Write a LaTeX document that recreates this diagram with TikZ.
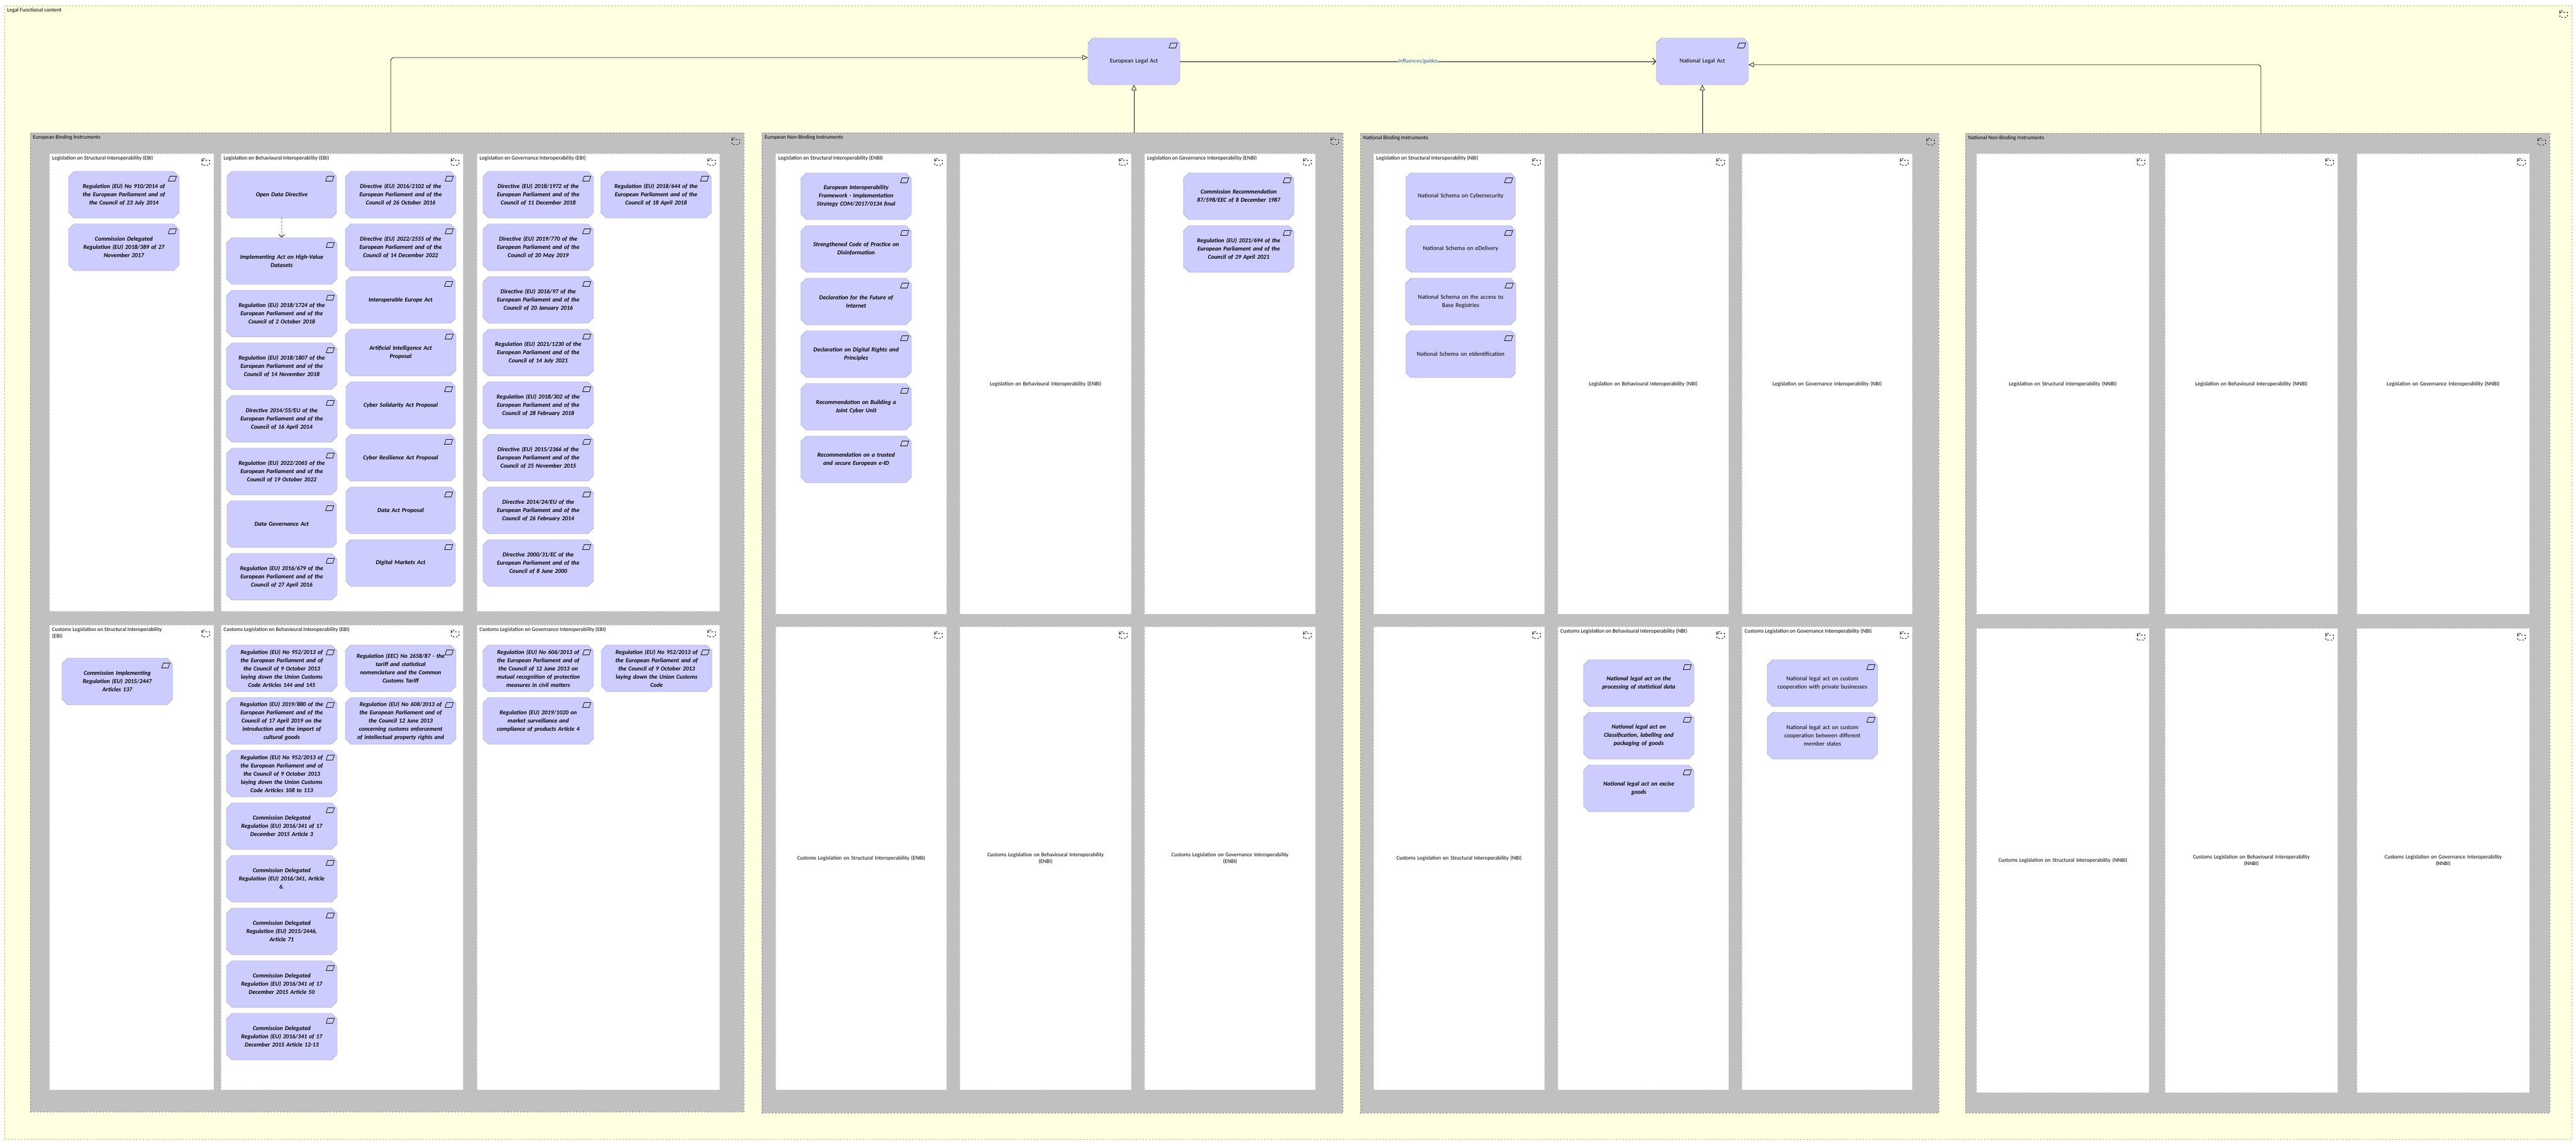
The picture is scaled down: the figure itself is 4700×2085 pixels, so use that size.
\documentclass[tikz,border=0pt]{standalone}
\usepackage{fontspec}
\setmainfont{Carlito}
\usetikzlibrary{shapes.misc,arrows.meta,positioning}
\definecolor{lfcfill}{HTML}{FFFFE1}
\definecolor{lfcdraw}{HTML}{B8B850}
\definecolor{grpfill}{HTML}{C0C0C0}
\definecolor{grpdraw}{HTML}{808080}
\definecolor{contdraw}{HTML}{C8C8C8}
\definecolor{actfill}{HTML}{CCCCFF}
\definecolor{actdraw}{HTML}{8585B5}
\definecolor{rellabel}{HTML}{1E5A8C}
\tikzset{
  folder/.style={path picture={
      \draw[black,line width=0.8pt] ([shift={(-22pt,-12pt)}]path picture bounding box.north east) rectangle ([shift={(-8pt,-21pt)}]path picture bounding box.north east);
      \draw[black,line width=0.8pt] ([shift={(-22pt,-12pt)}]path picture bounding box.north east) -- ([shift={(-22pt,-9pt)}]path picture bounding box.north east) -- ([shift={(-16pt,-9pt)}]path picture bounding box.north east) -- ([shift={(-16pt,-12pt)}]path picture bounding box.north east);}},
  grp/.style={draw=grpdraw, dashed, fill=grpfill, anchor=north west, inner sep=0pt, folder},
  cont/.style={draw=contdraw, dashed, fill=white, anchor=north west, inner sep=0pt, folder,
    font=\fontsize{10}{12}\selectfont, align=center, text width=300pt},
  ctitle/.style={anchor=north west, inner sep=0pt, xshift=5pt, yshift=-4pt, font=\fontsize{10}{12}\selectfont, align=left},
  act/.style={chamfered rectangle, chamfered rectangle xsep=7pt, chamfered rectangle angle=45,
    draw=actdraw, fill=actfill, minimum width=200pt, minimum height=85pt, inner sep=1pt,
    text width=186pt, align=center, font=\fontsize{11}{15}\selectfont\bfseries\itshape,
    path picture={\draw[black,line width=0.8pt]
      ([shift={(-17pt,-9pt)}]path picture bounding box.north east) -- ([shift={(-5pt,-9pt)}]path picture bounding box.north east) --
      ([shift={(-8pt,-18pt)}]path picture bounding box.north east) -- ([shift={(-20pt,-18pt)}]path picture bounding box.north east) -- cycle;}},
  plain/.style={act, font=\fontsize{11}{15}\selectfont},
  real/.style={-{Triangle[open,length=10pt,width=9pt]}, rounded corners=6pt, line width=0.8pt},
  infl/.style={-{Straight Barb[length=6pt]}, line width=1pt}
}
\begin{document}
\begin{tikzpicture}[x=1pt,y=-1pt]
  \useasboundingbox[fill=white] (0,0) rectangle (4700,2085);
  % outer frame
  \node[draw=lfcdraw, dashed, fill=lfcfill, anchor=north west, minimum width=4684pt, minimum height=2068pt, inner sep=0pt, folder] (lfc) at (8,10) {};
  \node[ctitle] at (lfc.north west) {Legal Functional content};

  % the two legal acts
  \node[plain, minimum width=168pt, text width=150pt] (eula) at (2069,112) {European Legal Act};
  \node[plain, minimum width=168pt, text width=150pt] (nla) at (3106,112) {National Legal Act};

  % instrument groups
  \node[grp, minimum width=1302pt, minimum height=1786pt] (ebi) at (55,242) {};
  \node[grp, minimum width=1060pt, minimum height=1788pt] (enbi) at (1390,242) {};
  \node[grp, minimum width=1055pt, minimum height=1787pt] (nbi) at (2482,243) {};
  \node[grp, minimum width=1066pt, minimum height=1787pt] (nnbi) at (3586,243) {};
  \node[ctitle] at (ebi.north west) {European Binding Instruments};
  \node[ctitle] at (enbi.north west) {European Non-Binding Instruments};
  \node[ctitle] at (nbi.north west) {National Binding Instruments};
  \node[ctitle] at (nnbi.north west) {National Non-Binding Instruments};

  % containers
  \foreach \nm/\xa/\ya/\w/\h/\txt in {
      ebis/90/280/290/835/{}, ebib/403/280/442/835/{}, ebig/870/280/443/835/{},
      ebics/90/1140/290/848/{}, ebicb/403/1140/442/848/{}, ebicg/870/1140/443/848/{},
      enbis/1415/280/312/840/{}, enbib/1751/280/313/840/{Legislation on Behavioural Interoperability (ENBI)}, enbig/2088/280/312/840/{},
      enbics/1415/1143/312/845/{Customs Legislation on Structural Interoperability (ENBI)},
      enbicb/1751/1143/313/845/{Customs Legislation on Behavioural Interoperability\\(ENBI)},
      enbicg/2088/1143/312/845/{Customs Legislation on Governance Interoperability\\(ENBI)},
      nbis/2506/280/312/840/{}, nbib/2842/280/312/840/{Legislation on Behavioural Interoperability (NBI)}, nbig/3178/280/311/840/{Legislation on Governance Interoperability (NBI)},
      nbics/2506/1143/312/845/{Customs Legislation on Structural Interoperability (NBI)}, nbicb/2842/1143/312/845/{}, nbicg/3178/1143/311/845/{},
      nnbis/3606/280/315/840/{Legislation on Structural Interoperability (NNBI)},
      nnbib/3950/280/315/840/{Legislation on Behavioural Interoperability (NNBI)},
      nnbig/4300/280/315/840/{Legislation on Governance Interoperability (NNBI)},
      nnbics/3606/1146/315/847/{Customs Legislation on Structural Interoperability (NNBI)},
      nnbicb/3950/1146/315/847/{Customs Legislation on Behavioural Interoperability\\(NNBI)},
      nnbicg/4300/1146/315/847/{Customs Legislation on Governance Interoperability\\(NNBI)}}
    \node[cont, minimum width=\w pt, minimum height=\h pt] (\nm) at (\xa,\ya) {\txt};
  \node[ctitle] at (ebis.north west) {Legislation on Structural Interoperability (EBI)};
  \node[ctitle] at (ebib.north west) {Legislation on Behavioural Interoperability (EBI)};
  \node[ctitle] at (ebig.north west) {Legislation on Governance Interoperability (EBI)};
  \node[ctitle] at (ebics.north west) {Customs Legislation on Structural Interoperability\\(EBI)};
  \node[ctitle] at (ebicb.north west) {Customs Legislation on Behavioural Interoperability (EBI)};
  \node[ctitle] at (ebicg.north west) {Customs Legislation on Governance Interoperability (EBI)};
  \node[ctitle] at (enbis.north west) {Legislation on Structural Interoperability (ENBI)};
  \node[ctitle] at (enbig.north west) {Legislation on Governance Interoperability (ENBI)};
  \node[ctitle] at (nbis.north west) {Legislation on Structural Interoperability (NBI)};
  \node[ctitle] at (nbicb.north west) {Customs Legislation on Behavioural Interoperability (NBI)};
  \node[ctitle] at (nbicg.north west) {Customs Legislation on Governance Interoperability (NBI)};

  % European binding, row 1
  \foreach \i/\txt in {0/{Regulation (EU) No 910/2014 of\\the European Parliament and of\\the Council of 23 July 2014},
      1/{Commission Delegated\\Regulation (EU) 2018/389 of 27\\November 2017}}
    \node[act] (ebis\i) at (226,355+96*\i) {\txt};
  \node[act] (odd) at (514,355) {Open Data Directive};
  \foreach \i/\txt in {0/{Implementing Act on High-Value\\Datasets},
      1/{Regulation (EU) 2018/1724 of the\\European Parliament and of the\\Council of 2 October 2018},
      2/{Regulation (EU) 2018/1807 of the\\European Parliament and of the\\Council of 14 November 2018},
      3/{Directive 2014/55/EU of the\\European Parliament and of the\\Council of 16 April 2014},
      4/{Regulation (EU) 2022/2065 of the\\European Parliament and of the\\Council of 19 October 2022},
      5/{Data Governance Act},
      6/{Regulation (EU) 2016/679 of the\\European Parliament and of the\\Council of 27 April 2016}}
    \node[act] (ebib\i) at (514,476+96*\i) {\txt};
  \foreach \i/\txt in {0/{Directive (EU) 2016/2102 of the\\European Parliament and of the\\Council of 26 October 2016},
      1/{Directive (EU) 2022/2555 of the\\European Parliament and of the\\Council of 14 December 2022},
      2/{Interoperable Europe Act}, 3/{Artificial Intelligence Act\\Proposal},
      4/{Cyber Solidarity Act Proposal}, 5/{Cyber Resilience Act Proposal},
      6/{Data Act Proposal}, 7/{Digital Markets Act}}
    \node[act] (ebibr\i) at (731,355+96*\i) {\txt};
  \foreach \i/\txt in {0/{Directive (EU) 2018/1972 of the\\European Parliament and of the\\Council of 11 December 2018},
      1/{Directive (EU) 2019/770 of the\\European Parliament and of the\\Council of 20 May 2019},
      2/{Directive (EU) 2016/97 of the\\European Parliament and of the\\Council of 20 January 2016},
      3/{Regulation (EU) 2021/1230 of the\\European Parliament and of the\\Council of 14 July 2021},
      4/{Regulation (EU) 2018/302 of the\\European Parliament and of the\\Council of 28 February 2018},
      5/{Directive (EU) 2015/2366 of the\\European Parliament and of the\\Council of 25 November 2015},
      6/{Directive 2014/24/EU of the\\European Parliament and of the\\Council of 26 February 2014},
      7/{Directive 2000/31/EC of the\\European Parliament and of the\\Council of 8 June 2000}}
    \node[act] (ebig\i) at (982,355+96*\i) {\txt};
  \node[act] (ebigr0) at (1197,355) {Regulation (EU) 2018/644 of the\\European Parliament and of the\\Council of 18 April 2018};
  \draw[dashed, -{Straight Barb[length=5pt]}, line width=0.8pt] (odd) -- (ebib0);

  % European binding, row 2 (customs)
  \node[act] (ebics0) at (214,1243) {Commission Implementing\\Regulation (EU) 2015/2447\\Articles 137};
  \foreach \i/\txt in {0/{Regulation (EU) No 952/2013 of\\the European Parliament and of\\the Council of 9 October 2013\\laying down the Union Customs\\Code Articles 144 and 145},
      1/{Regulation (EU) 2019/880 of the\\European Parliament and of the\\Council of 17 April 2019 on the\\introduction and the import of\\cultural goods},
      2/{Regulation (EU) No 952/2013 of\\the European Parliament and of\\the Council of 9 October 2013\\laying down the Union Customs\\Code Articles 108 to 113},
      3/{Commission Delegated\\Regulation (EU) 2016/341 of 17\\December 2015 Article 3},
      4/{Commission Delegated\\Regulation (EU) 2016/341, Article\\6.},
      5/{Commission Delegated\\Regulation (EU) 2015/2446,\\Article 71},
      6/{Commission Delegated\\Regulation (EU) 2016/341 of 17\\December 2015 Article 50},
      7/{Commission Delegated\\Regulation (EU) 2016/341 of 17\\December 2015 Article 12-13}}
    \node[act] (ebicb\i) at (514,1219+96*\i) {\txt};
  \node[act] (ebicbr0) at (731,1219) {Regulation (EEC) No 2658/87 - the\\tariff and statistical\\nomenclature and the Common\\Customs Tariff};
  \node[act] (ebicbr1) at (731,1315) {Regulation (EU) No 608/2013 of\\the European Parliament and of\\the Council 12 June 2013\\concerning customs enforcement\\of intellectual property rights and};
  \node[act] (ebicg0) at (982,1219) {Regulation (EU) No 606/2013 of\\the European Parliament and of\\the Council of 12 June 2013 on\\mutual recognition of protection\\measures in civil matters};
  \node[act] (ebicgr0) at (1198,1219) {Regulation (EU) No 952/2013 of\\the European Parliament and of\\the Council of 9 October 2013\\laying down the Union Customs\\Code};
  \node[act] (ebicg1) at (982,1315) {Regulation (EU) 2019/1020 on\\market surveillance and\\compliance of products Article 4};

  % European non-binding
  \foreach \i/\txt in {0/{European Interoperability\\Framework - Implementation\\Strategy COM/2017/0134 final},
      1/{Strengthened Code of Practice on\\Disinformation}, 2/{Declaration for the Future of\\Internet},
      3/{Declaration on Digital Rights and\\Principles}, 4/{Recommendation on Building a\\Joint Cyber Unit},
      5/{Recommendation on a trusted\\and secure European e-ID}}
    \node[act] (enbis\i) at (1562,358+96*\i) {\txt};
  \node[act] (enbig0) at (2260,358) {Commission Recommendation\\87/598/EEC of 8 December 1987};
  \node[act] (enbig1) at (2260,454) {Regulation (EU) 2021/694 of the\\European Parliament and of the\\Council of 29 April 2021};

  % national binding
  \foreach \i/\txt in {0/{National Schema on Cybersecurity}, 1/{National Schema on eDelivery},
      2/{National Schema on the access to\\Base Registries}, 3/{National Schema on eIdentification}}
    \node[plain] (nbis\i) at (2665,358+96*\i) {\txt};
  \foreach \i/\txt in {0/{National legal act on the\\processing of statistical data},
      1/{National legal act on\\Classification, labelling and\\packaging of goods},
      2/{National legal act on excise\\goods}}
    \node[act] (nbicb\i) at (2990,1246+96*\i) {\txt};
  \node[plain] (nbicg0) at (3325,1246) {National legal act on custom\\cooperation with private businesses};
  \node[plain] (nbicg1) at (3325,1342) {National legal act on custom\\cooperation between different\\member states};

  % relations
  \draw[real] ([xshift=658pt]ebi.north west) |- ([yshift=7pt]eula.west);
  \draw[real] (enbi.north -| eula.south) -- (eula.south);
  \draw[real] (nbi.north -| nla.south) -- (nla.south);
  \draw[real] ([xshift=539pt]nnbi.north west) |- ([yshift=-6pt]nla.east);
  \draw[infl] (eula.east) -- node[fill=lfcfill, inner sep=1pt, text=rellabel, font=\fontsize{10}{12}\selectfont] {Influences/guides} (nla.west);
\end{tikzpicture}
\end{document}
